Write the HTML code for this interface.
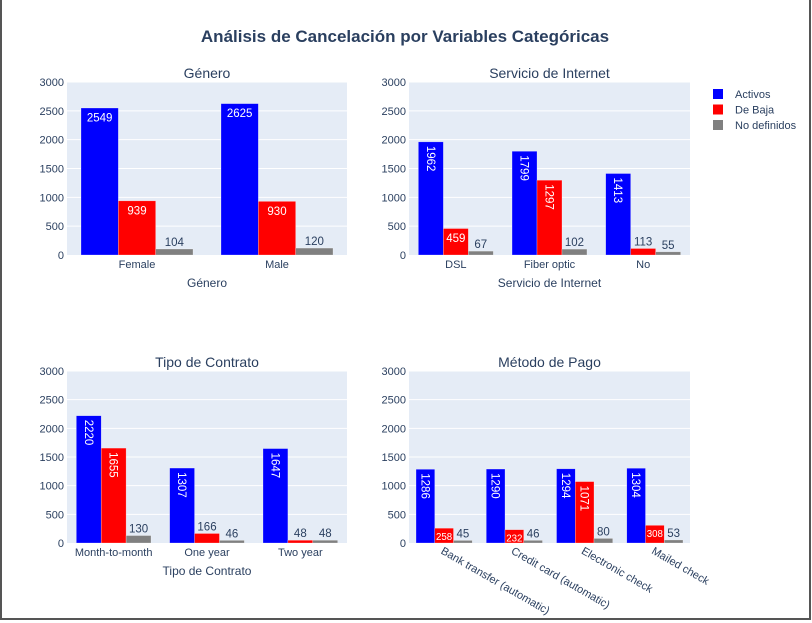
<!DOCTYPE html>
<html><head><meta charset="utf-8"><style>
html,body{margin:0;padding:0;background:#fff}
#wrap{position:relative;width:812px;height:623px;overflow:hidden}
#frame{position:absolute;left:0;top:-2px;width:807px;height:620px;border:2px solid #555;border-top:none}
svg{position:absolute;left:0;top:0;font-family:"Liberation Sans",Arial,sans-serif}
</style></head><body>
<div id="wrap">
<div id="frame"></div>
<svg id="chart" width="812" height="623">
<text x="405" y="42" text-anchor="middle" font-size="17" font-weight="bold" fill="#2a3f5f">Análisis de Cancelación por Variables Categóricas</text>
</svg>
</div>
<script>
const seriesNames = ["Activos","De Baja","No definidos"];
const seriesColors = ["#0000ff","#ff0000","#808080"];
const yTicks = [0,500,1000,1500,2000,2500,3000];

const genderCats = ["Female","Male"];
const genderActive = [2549,2625];
const genderChurn = [939,930];
const genderUndef = [104,120];

const internetCats = ["DSL","Fiber optic","No"];
const internetActive = [1962,1799,1413];
const internetChurn = [459,1297,113];
const internetUndef = [67,102,55];

const contractCats = ["Month-to-month","One year","Two year"];
const contractActive = [2220,1307,1647];
const contractChurn = [1655,166,48];
const contractUndef = [130,46,48];

const payCats = ["Bank transfer (automatic)","Credit card (automatic)","Electronic check","Mailed check"];
const payActive = [1286,1290,1294,1304];
const payChurn = [258,232,1071,308];
const payUndef = [45,46,80,53];

const NS="http://www.w3.org/2000/svg";
const svg=document.getElementById('chart');
function mk(tag,attrs,parent){const e=document.createElementNS(NS,tag);for(const k in attrs)e.setAttribute(k,attrs[k]);(parent||svg).appendChild(e);return e;}

function drawPanel(key,title,xTitle,cats,series,box,rotTicks){
  const g=mk('g',{});
  
  
  const yMax=3000;
  const y=v=>box.y1-(v/yMax)*(box.y1-box.y0);
  const bg=mk('rect',{x:box.x0,y:box.y0,width:box.x1-box.x0,height:box.y1-box.y0,fill:'#e5ecf6'},g);
  
  
  yTicks.forEach(t=>{
    if(t>0){const l=mk('line',{x1:box.x0,x2:box.x1,y1:y(t),y2:y(t),stroke:'#fff','stroke-width':1},g);
      
      }
    const tx=mk('text',{x:box.x0-3,y:y(t)+4,'text-anchor':'end','font-size':11,fill:'#2a3f5f'},g);
    tx.textContent=t;
    
    
  });
  const cw=(box.x1-box.x0)/cats.length;
  const bw=cw*0.8/3;
  cats.forEach((c,i)=>{
    const cx=box.x0+cw*(i+0.5);
    series.forEach((vals,s)=>{
      const v=vals[i];
      const bx=cx-cw*0.4+bw*s;
      const by=y(v),bh=box.y1-by;
      const r=mk('rect',{x:bx,y:by,width:bw,height:bh,fill:seriesColors[s],stroke:'rgba(255,255,255,0.5)','stroke-width':0.5},g);
      
      
      const label=String(v);
      const tw=label.length*6.2;
      const t=mk('text',{'font-size':11.5},g);
      t.textContent=label;
      
      
      const mx=bx+bw/2;
      if(bh<12){
        t.setAttribute('x',mx);t.setAttribute('y',by-3);t.setAttribute('text-anchor','middle');t.setAttribute('fill','#2a3f5f');
      } else if(tw>bw-4 && bh>=tw+6){
        t.setAttribute('fill','#fff');t.setAttribute('text-anchor','start');
        t.setAttribute('transform','translate('+(mx-4)+','+(by+4)+') rotate(90)');
      } else {
        let fs=11.5; if(tw>bw-2){fs=Math.max(8,11.5*(bw-3)/tw);}
        t.setAttribute('font-size',fs.toFixed(1));
        t.setAttribute('x',mx);t.setAttribute('y',by+fs+2);t.setAttribute('text-anchor','middle');t.setAttribute('fill','#fff');
      }
    });
    const lt=mk('text',{'font-size':11,fill:'#2a3f5f'},g);
    lt.textContent=c;
    
    
    if(rotTicks){lt.setAttribute('transform','translate('+(cx-4)+','+(box.y1+10)+') rotate(30)');lt.setAttribute('text-anchor','start');}
    else{lt.setAttribute('x',cx);lt.setAttribute('y',box.y1+13);lt.setAttribute('text-anchor','middle');}
  });
  const tt=mk('text',{x:(box.x0+box.x1)/2,y:box.y0-4,'text-anchor':'middle','font-size':14,fill:'#2a3f5f'},g);
  tt.textContent=title;
  
  
  if(xTitle){const xt=mk('text',{x:(box.x0+box.x1)/2,y:box.y1+32,'text-anchor':'middle','font-size':12,fill:'#2a3f5f'},g);
    xt.textContent=xTitle;
    
    }
}
drawPanel('gender','Género','Género',genderCats,[genderActive,genderChurn,genderUndef],{x0:67,x1:347,y0:82,y1:255},false);
drawPanel('internet','Servicio de Internet','Servicio de Internet',internetCats,[internetActive,internetChurn,internetUndef],{x0:409,x1:690,y0:82,y1:255},false);
drawPanel('contract','Tipo de Contrato','Tipo de Contrato',contractCats,[contractActive,contractChurn,contractUndef],{x0:67,x1:347,y0:371,y1:543},false);
drawPanel('payment','Método de Pago','',payCats,[payActive,payChurn,payUndef],{x0:409,x1:690,y0:371,y1:543},true);

seriesNames.forEach((n,i)=>{
  const g=mk('g',{});
  
  
  mk('rect',{x:713,y:89+i*15.5,width:10,height:10,fill:seriesColors[i]},g);
  const t=mk('text',{x:735,y:98+i*15.5,'font-size':11,fill:'#2a3f5f'},g);
  t.textContent=n;
});
</script>
</body></html>
